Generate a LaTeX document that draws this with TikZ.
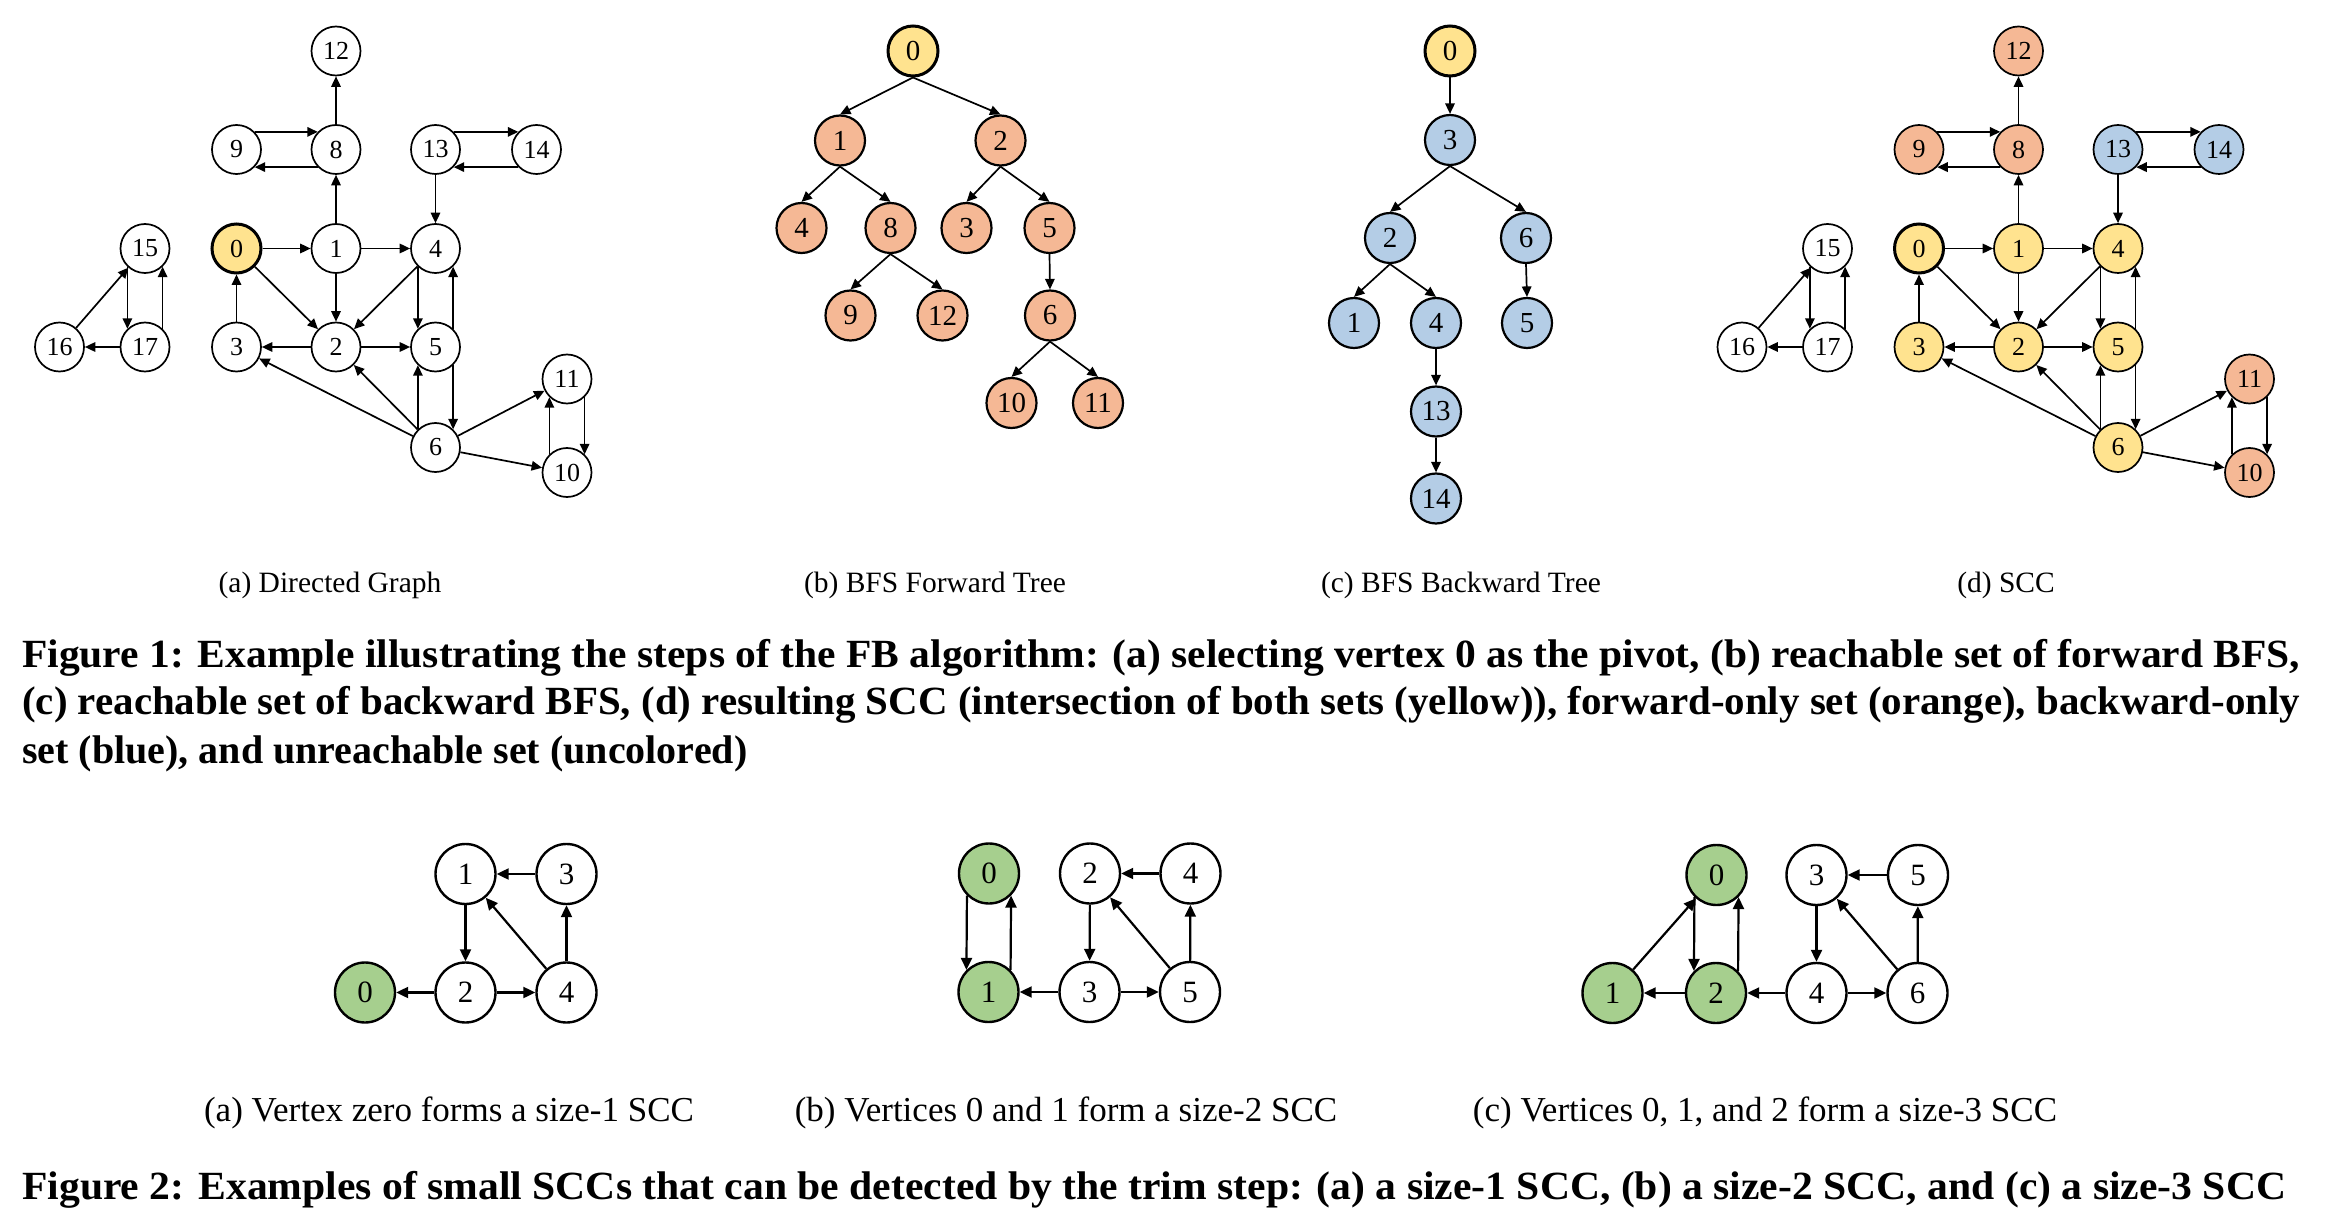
\documentclass[tikz,border=0pt]{standalone}
\usepackage{fontspec}
\setmainfont{Liberation Serif}
\usepackage{graphicx}
\usetikzlibrary{arrows.meta}

\definecolor{sccyellow}{HTML}{FFE38F}
\definecolor{fwdorange}{HTML}{F5B895}
\definecolor{bwdblue}{HTML}{B4CDE6}
\definecolor{trimgreen}{HTML}{A6CF8E}

\tikzset{
  vtx/.style={circle, draw, fill=white, line width=1.7pt, minimum size=49pt,
    inner sep=0pt, font=\fontsize{26}{26}\selectfont},
  tvtx/.style={vtx, line width=2.2pt, minimum size=50pt, font=\fontsize{29}{29}\selectfont},
  svtx/.style={vtx, line width=2.4pt, minimum size=60pt, font=\fontsize{31}{31}\selectfont},
  pivot/.style={fill=sccyellow, line width=3pt},
  scc/.style={fill=sccyellow},
  fwd/.style={fill=fwdorange},
  bwd/.style={fill=bwdblue},
  unr/.style={},
  trimv/.style={fill=trimgreen},
  fbarrow/.style={-{Triangle[length=10.5pt,width=9.5pt]}, line width=1.7pt},
  trimarrow/.style={-{Triangle[length=12pt,width=11pt]}, line width=2.2pt},
  subcap/.style={inner sep=0pt, font=\fontsize{29.5}{35}\selectfont},
  bigsubcap/.style={inner sep=0pt, font=\fontsize{35}{40}\selectfont},
  figcap/.style={inner sep=0pt, anchor=west, font=\bfseries\fontsize{40}{48}\selectfont}
}

% fbgraph:
%   the 18-vertex directed graph of figure 1, #1 prefixes the node names
\newcommand{\fbgraph}[1]{%
  \node[vtx,fwd] (#1v12) at (336,51) {12};
  \node[vtx,fwd] (#1v9) at (236.5,149.5) {9};
  \node[vtx,fwd] (#1v8) at (336,149.5) {8};
  \node[vtx,bwd] (#1v13) at (435.5,149.5) {13};
  \node[vtx,bwd] (#1v14) at (536.5,149.5) {14};
  \node[vtx,unr] (#1v15) at (145,248.5) {15};
  \node[vtx,pivot] (#1v0) at (236.5,248.5) {0};
  \node[vtx,scc] (#1v1) at (336,248.5) {1};
  \node[vtx,scc] (#1v4) at (435.5,248.5) {4};
  \node[vtx,unr] (#1v16) at (59.5,347) {16};
  \node[vtx,unr] (#1v17) at (145,347) {17};
  \node[vtx,scc] (#1v3) at (236.5,347) {3};
  \node[vtx,scc] (#1v2) at (336,347) {2};
  \node[vtx,scc] (#1v5) at (435.5,347) {5};
  \node[vtx,fwd] (#1v11) at (567,379) {11};
  \node[vtx,scc] (#1v6) at (435.5,447.5) {6};
  \node[vtx,fwd] (#1v10) at (567,472.5) {10};
  % top pairs
  \draw[fbarrow] (#1v9.44) -- (#1v8.136);
  \draw[fbarrow] (#1v8.-136) -- (#1v9.-44);
  \draw[fbarrow] (#1v8) -- (#1v12);
  \draw[fbarrow] (#1v1) -- (#1v8);
  \draw[fbarrow] (#1v13.44) -- (#1v14.136);
  \draw[fbarrow] (#1v14.-136) -- (#1v13.-44);
  \draw[fbarrow] (#1v13) -- (#1v4);
  % middle part
  \draw[fbarrow] (#1v0) -- (#1v1);
  \draw[fbarrow] (#1v1) -- (#1v4);
  \draw[fbarrow] (#1v0) -- (#1v2);
  \draw[fbarrow] (#1v1) -- (#1v2);
  \draw[fbarrow] (#1v4) -- (#1v2);
  \draw[fbarrow] (#1v3) -- (#1v0);
  \draw[fbarrow] (#1v2) -- (#1v3);
  \draw[fbarrow] (#1v2) -- (#1v5);
  \draw[fbarrow] (#1v4.-134) -- (#1v5.134);
  \draw[fbarrow] (#1v5.46) -- (#1v4.-46);
  \draw[fbarrow] (#1v5.-46) -- (#1v6.46);
  \draw[fbarrow] (#1v6.134) -- (#1v5.-134);
  \draw[fbarrow] (#1v6) -- (#1v3);
  \draw[fbarrow] (#1v6) -- (#1v2);
  \draw[fbarrow] (#1v6) -- (#1v11);
  \draw[fbarrow] (#1v6) -- (#1v10);
  \draw[fbarrow] (#1v10.134) -- (#1v11.-134);
  \draw[fbarrow] (#1v11.-46) -- (#1v10.46);
  % unreachable part
  \draw[fbarrow] (#1v15.-134) -- (#1v17.134);
  \draw[fbarrow] (#1v17.46) -- (#1v15.-46);
  \draw[fbarrow] (#1v17) -- (#1v16);
  \draw[fbarrow] (#1v16) -- (#1v15);
}

\begin{document}
\begin{tikzpicture}[x=1pt, y=-1pt]
  \useasboundingbox (0,0) rectangle (2330,1222);

  % DirectedGraph:
  %   the input graph, only the pivot is coloured
  \begin{scope}[scc/.style={}, fwd/.style={}, bwd/.style={}]
    \fbgraph{a}
  \end{scope}
  \node[subcap] (capa) at (330,585) {(a) Directed Graph};

  % ForwardTree:
  %   BFS from the pivot along the edges
  \node[tvtx,pivot] (bt0) at (913,51) {0};
  \node[tvtx,fwd] (bt1) at (840,140.5) {1};
  \node[tvtx,fwd] (bt2) at (1000.5,140.5) {2};
  \node[tvtx,fwd] (bt4) at (801.5,228) {4};
  \node[tvtx,fwd] (bt8) at (890.5,228) {8};
  \node[tvtx,fwd] (bt3) at (966.5,228) {3};
  \node[tvtx,fwd] (bt5) at (1049.5,228) {5};
  \node[tvtx,fwd] (bt9) at (850.5,315.5) {9};
  \node[tvtx,fwd] (bt12) at (942.5,315.5) {12};
  \node[tvtx,fwd] (bt6) at (1050,315.5) {6};
  \node[tvtx,fwd] (bt10) at (1011.5,403) {10};
  \node[tvtx,fwd] (bt11) at (1098,403) {11};
  \draw[fbarrow] (bt0.south) -- (bt1.north);
  \draw[fbarrow] (bt0.south) -- (bt2.north);
  \draw[fbarrow] (bt1.south) -- (bt4.north);
  \draw[fbarrow] (bt1.south) -- (bt8.north);
  \draw[fbarrow] (bt2.south) -- (bt3.north);
  \draw[fbarrow] (bt2.south) -- (bt5.north);
  \draw[fbarrow] (bt8.south) -- (bt9.north);
  \draw[fbarrow] (bt8.south) -- (bt12.north);
  \draw[fbarrow] (bt5.south) -- (bt6.north);
  \draw[fbarrow] (bt6.south) -- (bt10.north);
  \draw[fbarrow] (bt6.south) -- (bt11.north);
  \node[subcap] (capb) at (935,585) {(b) BFS Forward Tree};

  % BackwardTree:
  %   BFS from the pivot against the edges
  \node[tvtx,pivot] (ct0) at (1450,51) {0};
  \node[tvtx,bwd] (ct3) at (1450,140) {3};
  \node[tvtx,bwd] (ct2) at (1390,238) {2};
  \node[tvtx,bwd] (ct6) at (1526,238) {6};
  \node[tvtx,bwd] (ct1) at (1354,323) {1};
  \node[tvtx,bwd] (ct4) at (1436,323) {4};
  \node[tvtx,bwd] (ct5) at (1527,323) {5};
  \node[tvtx,bwd] (ct13) at (1436,411.5) {13};
  \node[tvtx,bwd] (ct14) at (1436,498.5) {14};
  \draw[fbarrow] (ct0.south) -- (ct3.north);
  \draw[fbarrow] (ct3.south) -- (ct2.north);
  \draw[fbarrow] (ct3.south) -- (ct6.north);
  \draw[fbarrow] (ct2.south) -- (ct1.north);
  \draw[fbarrow] (ct2.south) -- (ct4.north);
  \draw[fbarrow] (ct6.south) -- (ct5.north);
  \draw[fbarrow] (ct4.south) -- (ct13.north);
  \draw[fbarrow] (ct13.south) -- (ct14.north);
  \node[subcap] (capc) at (1461,585) {(c) BFS Backward Tree};

  % SCC:
  %   the same graph coloured by the sets found
  \begin{scope}[xshift=1682.5pt]
    \fbgraph{d}
  \end{scope}
  \node[subcap] (capd) at (2006,585) {(d) SCC};

  \node[figcap] (fig1a) at (22,658) {\resizebox{2278pt}{\height}{Figure 1: Example illustrating the steps of the FB algorithm: (a) selecting vertex 0 as the pivot, (b) reachable set of forward BFS,}};
  \node[figcap] (fig1b) at (22,705) {\resizebox{2278pt}{\height}{(c) reachable set of backward BFS, (d) resulting SCC (intersection of both sets (yellow)), forward-only set (orange), backward-only}};
  \node[figcap] (fig1c) at (22,754) {set (blue), and unreachable set (uncolored)};

  % SizeOne:
  %   vertex 0 has no outgoing edge
  \node[svtx] (sa1) at (465.5,874) {1};
  \node[svtx] (sa3) at (566.5,874) {3};
  \node[svtx,trimv] (sa0) at (365,992.5) {0};
  \node[svtx] (sa2) at (465.5,992.5) {2};
  \node[svtx] (sa4) at (566.5,992.5) {4};
  \draw[trimarrow] (sa3) -- (sa1);
  \draw[trimarrow] (sa1) -- (sa2);
  \draw[trimarrow] (sa2) -- (sa0);
  \draw[trimarrow] (sa2) -- (sa4);
  \draw[trimarrow] (sa4) -- (sa1);
  \draw[trimarrow] (sa4) -- (sa3);
  \node[bigsubcap] (capsa) at (449,1113) {(a) Vertex zero forms a size-1 SCC};

  % SizeTwo:
  %   vertices 0 and 1 only point at each other
  \node[svtx,trimv] (sb0) at (989,873.5) {0};
  \node[svtx] (sb2) at (1090,873.5) {2};
  \node[svtx] (sb4) at (1190.5,873.5) {4};
  \node[svtx,trimv] (sb1) at (988.5,992) {1};
  \node[svtx] (sb3) at (1089.5,992) {3};
  \node[svtx] (sb5) at (1190,992) {5};
  \draw[trimarrow] (sb0.-135) -- (sb1.135);
  \draw[trimarrow] (sb1.45) -- (sb0.-45);
  \draw[trimarrow] (sb4) -- (sb2);
  \draw[trimarrow] (sb2) -- (sb3);
  \draw[trimarrow] (sb3) -- (sb1);
  \draw[trimarrow] (sb3) -- (sb5);
  \draw[trimarrow] (sb5) -- (sb2);
  \draw[trimarrow] (sb5) -- (sb4);
  \node[bigsubcap] (capsb) at (1066,1113) {(b) Vertices 0 and 1 form a size-2 SCC};

  % SizeThree:
  %   vertices 0, 1 and 2 form a closed cycle
  \node[svtx,trimv] (sc0) at (1716.5,875) {0};
  \node[svtx] (sc3) at (1816.5,875) {3};
  \node[svtx] (sc5) at (1918,875) {5};
  \node[svtx,trimv] (sc1) at (1612.5,993) {1};
  \node[svtx,trimv] (sc2) at (1716,993) {2};
  \node[svtx] (sc4) at (1816.5,993) {4};
  \node[svtx] (sc6) at (1917.5,993) {6};
  \draw[trimarrow] (sc1) -- (sc0);
  \draw[trimarrow] (sc0.-135) -- (sc2.135);
  \draw[trimarrow] (sc2.45) -- (sc0.-45);
  \draw[trimarrow] (sc2) -- (sc1);
  \draw[trimarrow] (sc4) -- (sc2);
  \draw[trimarrow] (sc3) -- (sc4);
  \draw[trimarrow] (sc4) -- (sc6);
  \draw[trimarrow] (sc6) -- (sc3);
  \draw[trimarrow] (sc6) -- (sc5);
  \draw[trimarrow] (sc5) -- (sc3);
  \node[bigsubcap] (capsc) at (1765,1113) {(c) Vertices 0, 1, and 2 form a size-3 SCC};

  \node[figcap] (fig2) at (22,1190) {\resizebox{2264pt}{\height}{Figure 2: Examples of small SCCs that can be detected by the trim step: (a) a size-1 SCC, (b) a size-2 SCC, and (c) a size-3 SCC}};
\end{tikzpicture}
\end{document}
